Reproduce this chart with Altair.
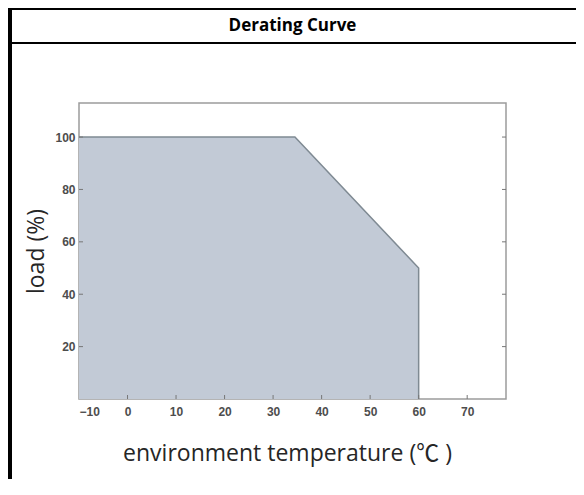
import altair as alt
import pandas as pd

# Derating curve vertices (temperature °C, load %)
temps = [-10, 34.5, 60, 60]
loads = [100, 100, 50, 0]
order = [0, 1, 2, 3]

x_ticks = [-10, 0, 10, 20, 30, 40, 50, 60, 70]
y_ticks = [20, 40, 60, 80, 100]
x_domain = [-10, 78]
y_domain = [0, 113]

W, H = 427, 296
FRAME = "#9c9c9c"

curve = pd.DataFrame({"temp": temps, "load": loads, "ord": order})
xt = pd.DataFrame({"t": x_ticks[1:]})
yt = pd.DataFrame({"v": y_ticks})

xs = alt.Scale(domain=x_domain, nice=False, zero=False)
ys = alt.Scale(domain=y_domain, nice=False, zero=False)

label_font = "Liberation Sans"

area = alt.Chart(curve).mark_area(color="#c2cad6", opacity=1).encode(
    x=alt.X("temp:Q", scale=xs, axis=alt.Axis(
        values=x_ticks, ticks=False, domain=False, grid=False,
        labelFont=label_font, labelFontSize=12, labelFontWeight="bold",
        labelColor="#4d4d4d", labelPadding=7,
        title="environment temperature (℃ )",
        titleFont="Open Sans, Noto Sans CJK SC", titleFontSize=23,
        titleFontWeight="normal", titleColor="#262626",
        titleX=208, titleY=54, titleBaseline="middle", titleAlign="center",
    )),
    y=alt.Y("load:Q", scale=ys, axis=alt.Axis(
        values=y_ticks, ticks=False, domain=False, grid=False,
        labelFont=label_font, labelFontSize=12, labelFontWeight="bold",
        labelColor="#4d4d4d", labelPadding=4,
        title="load (%)",
        titleFont="Open Sans", titleFontSize=23,
        titleFontWeight="normal", titleColor="#262626",
        titleX=-43, titleY=148, titleBaseline="middle", titleAlign="center",
    )),
)

outline = alt.Chart(curve).mark_line(color="#7f8a93", strokeWidth=1.5).encode(
    x=alt.X("temp:Q", scale=xs),
    y=alt.Y("load:Q", scale=ys),
    order=alt.Order("ord:Q"),
)

tick_style = dict(color="#777777", strokeWidth=1)

bottom_ticks = alt.Chart(xt).mark_rule(**tick_style).encode(
    x=alt.X("t:Q", scale=xs), y=alt.value(H), y2=alt.value(H - 4)
)
left_ticks = alt.Chart(yt).mark_rule(**tick_style).encode(
    y=alt.Y("v:Q", scale=ys), x=alt.value(0), x2=alt.value(4)
)
right_ticks = alt.Chart(yt).mark_rule(**tick_style).encode(
    y=alt.Y("v:Q", scale=ys), x=alt.value(W), x2=alt.value(W - 4)
)

# table-like header decoration
one = pd.DataFrame({"k": [0]})
top_line = alt.Chart(one).mark_rule(color="black", strokeWidth=2).encode(
    x=alt.value(-71), x2=alt.value(497), y=alt.value(-94)
)
header_line = alt.Chart(one).mark_rule(color="black", strokeWidth=2).encode(
    x=alt.value(-71), x2=alt.value(497), y=alt.value(-60)
)
left_bar = alt.Chart(one).mark_rule(color="black", strokeWidth=4).encode(
    x=alt.value(-69), y=alt.value(-95), y2=alt.value(H + 80)
)
title = alt.Chart(one).mark_text(
    text="Derating Curve", font="Open Sans", fontSize=17, fontWeight="bold",
    color="black", baseline="middle", align="center",
).encode(x=alt.value(W / 2), y=alt.value(-77))

chart = alt.layer(
    area, outline, bottom_ticks, left_ticks, right_ticks,
    top_line, header_line, left_bar, title,
).properties(
    width=W, height=H,
    autosize=alt.AutoSizeParams(type="none"),
    padding={"left": 71, "top": 95, "right": 70, "bottom": 80},
).configure_view(
    stroke=FRAME, strokeWidth=1.5
)

chart.save("out.html", embed_options={"renderer": "svg", "actions": False})
